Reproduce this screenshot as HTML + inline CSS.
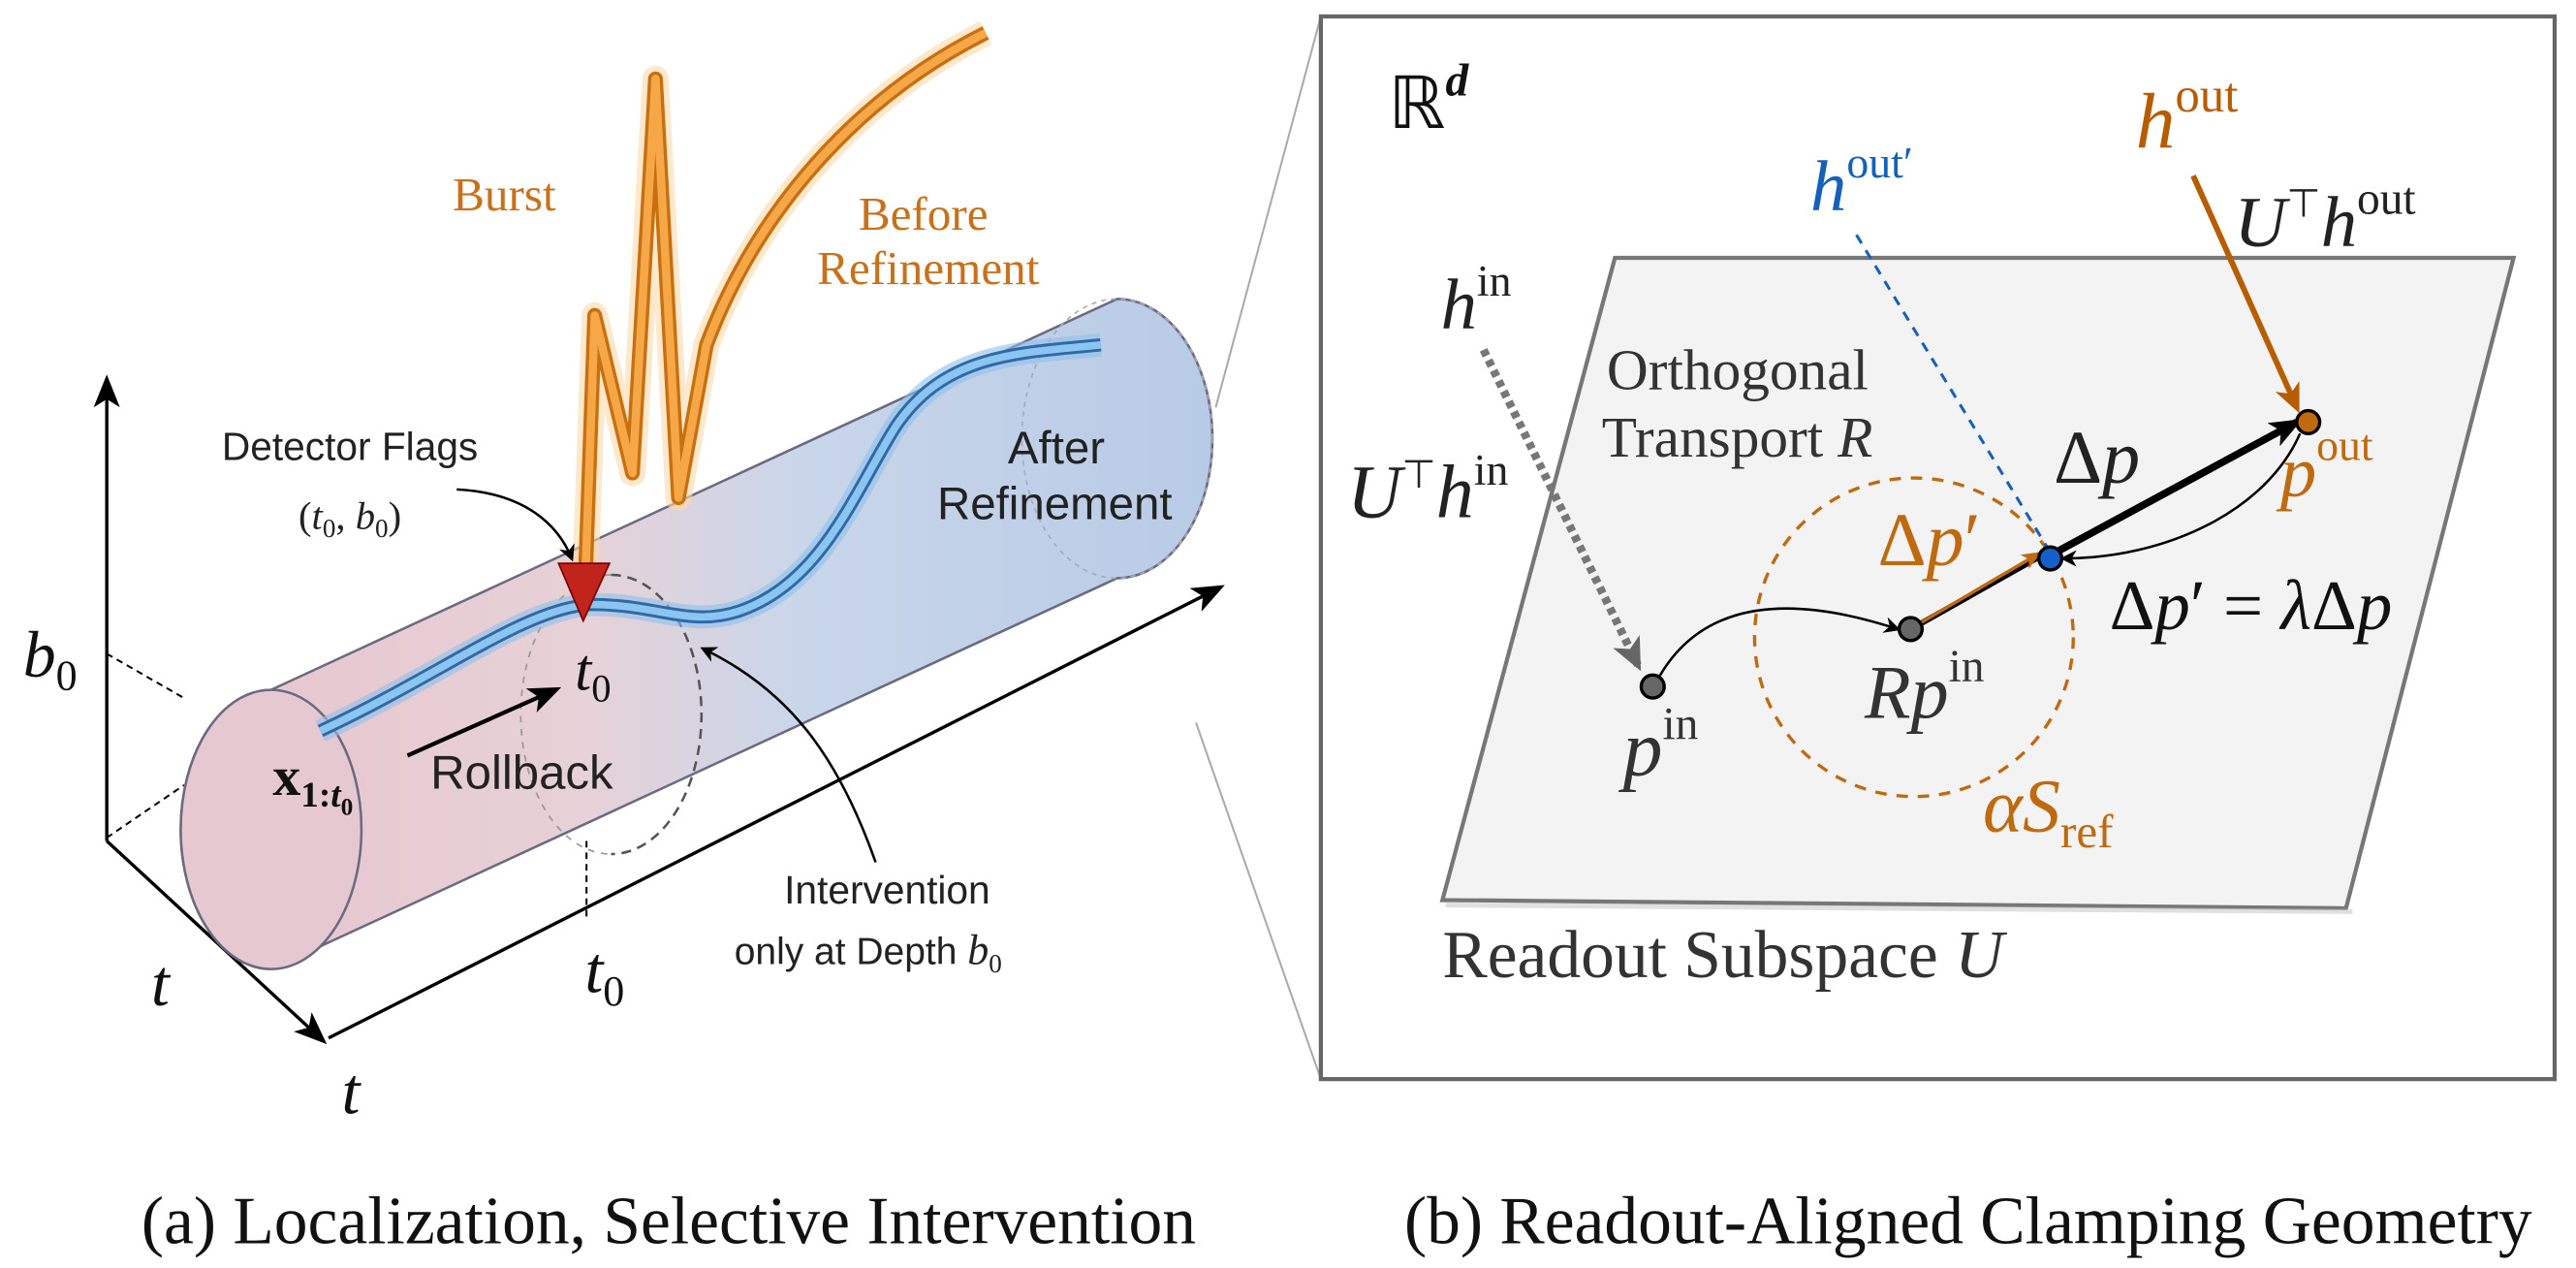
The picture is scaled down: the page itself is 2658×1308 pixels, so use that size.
<!DOCTYPE html>
<html><head><meta charset="utf-8"><style>
html,body{margin:0;padding:0;background:#fff}
svg{display:block}
.s{font-family:"Liberation Serif",serif}
.a{font-family:"Liberation Sans",sans-serif}
</style></head><body>
<svg width="2658" height="1308" viewBox="0 0 1568 772" preserveAspectRatio="none" xmlns="http://www.w3.org/2000/svg">
<defs>
<linearGradient id="cyl" x1="0" y1="0" x2="1" y2="0">
<stop offset="0" stop-color="#e8c4cc"/><stop offset="0.4" stop-color="#e6d2d8"/><stop offset="0.6" stop-color="#c9d6ea"/><stop offset="1" stop-color="#b8cbe6"/>
</linearGradient>
<marker id="ab" markerWidth="10" markerHeight="10" refX="8" refY="5" orient="auto" markerUnits="userSpaceOnUse"><path d="M0,0 L10,5 L0,10 L3,5z" fill="#000"/></marker>
<marker id="abb" markerWidth="20" markerHeight="16" refX="16" refY="8" orient="auto" markerUnits="userSpaceOnUse"><path d="M0,0 L20,8 L0,16 L5,8z" fill="#000"/></marker>
<marker id="ao" markerWidth="18" markerHeight="16" refX="14" refY="8" orient="auto" markerUnits="userSpaceOnUse"><path d="M0,0 L18,8 L0,16 L5,8z" fill="#b85c00"/></marker>
<marker id="ao2" markerWidth="12" markerHeight="10" refX="10" refY="5" orient="auto" markerUnits="userSpaceOnUse"><path d="M0,0 L12,5 L0,10 L3,5z" fill="#c06a10"/></marker>
<marker id="ag" markerWidth="20" markerHeight="18" refX="16" refY="9" orient="auto" markerUnits="userSpaceOnUse"><path d="M0,0 L20,9 L0,18 L5,9z" fill="#666"/></marker>
</defs>

<line x1="65" y1="512" x2="65" y2="232" stroke="#000" stroke-width="2" marker-end="url(#abb)"/>
<line x1="65" y1="512" x2="196" y2="633" stroke="#000" stroke-width="2" marker-end="url(#abb)"/>
<line x1="200" y1="632" x2="742" y2="358" stroke="#000" stroke-width="2" marker-end="url(#abb)"/>
<line x1="65" y1="398" x2="112" y2="425" stroke="#000" stroke-width="1.2" stroke-dasharray="4,3"/>
<line x1="65" y1="510" x2="112" y2="478" stroke="#000" stroke-width="1.2" stroke-dasharray="4,3"/>
<line x1="357" y1="512" x2="357" y2="560" stroke="#000" stroke-width="1.2" stroke-dasharray="4,3"/>

<path d="M165,420 L680,182 A58,85 0 0 1 680,352 L165,590 A55,85 0 0 1 165,420 Z" fill="url(#cyl)" stroke="#6a6a80" stroke-width="1.5"/>
<ellipse cx="165" cy="505" rx="55" ry="85" fill="#e6c8d0" stroke="#6a6a80" stroke-width="1.5"/>
<ellipse cx="680" cy="267" rx="58" ry="85" fill="none" stroke="#aab" stroke-width="1" stroke-dasharray="3,3"/>
<path d="M372,350 A55,85 0 0 1 372,520" fill="none" stroke="#555" stroke-width="1.5" stroke-dasharray="6,4"/>
<path d="M372,350 A55,85 0 0 0 372,520" fill="none" stroke="#999" stroke-width="1" stroke-dasharray="4,4"/>

<path d="M195,445 C270,410 320,370 360,368 C400,368 420,382 450,372 C500,355 520,300 545,260 C575,215 620,215 670,210" fill="none" stroke="#8fc0ea" stroke-width="14" opacity="0.6"/>
<path d="M195,445 C270,410 320,370 360,368 C400,368 420,382 450,372 C500,355 520,300 545,260 C575,215 620,215 670,210" fill="none" stroke="#2e6aa8" stroke-width="8"/>
<path d="M195,445 C270,410 320,370 360,368 C400,368 420,382 450,372 C500,355 520,300 545,260 C575,215 620,215 670,210" fill="none" stroke="#8cc6f0" stroke-width="4.5"/>

<path d="M356,360 L362,192 L385,288 L399,48 L413,303 L430,210 C460,130 520,60 600,20" fill="none" stroke="#ffd8a8" stroke-width="16" opacity="0.6" stroke-linejoin="round"/>
<path d="M356,360 L362,192 L385,288 L399,48 L413,303 L430,210 C460,130 520,60 600,20" fill="none" stroke="#c8700f" stroke-width="9" stroke-linejoin="round"/>
<path d="M356,360 L362,192 L385,288 L399,48 L413,303 L430,210 C460,130 520,60 600,20" fill="none" stroke="#f6a848" stroke-width="5" stroke-linejoin="round"/>

<polygon points="340,343 371,343 355,378" fill="#c0241a" stroke="#700" stroke-width="1"/>

<path d="M278,298 C320,300 340,320 348,340" fill="none" stroke="#000" stroke-width="1.5" marker-end="url(#ab)"/>
<line x1="248" y1="460" x2="338" y2="420" stroke="#000" stroke-width="2.5" marker-end="url(#abb)"/>
<path d="M533,525 C510,460 480,420 428,395" fill="none" stroke="#000" stroke-width="1.5" marker-end="url(#ab)"/>

<text x="307" y="128" class="s" font-size="29" fill="#c8701a" text-anchor="middle">Burst</text>
<text x="562" y="140" class="s" font-size="29" fill="#c8701a" text-anchor="middle">Before</text>
<text x="565" y="173" class="s" font-size="29" fill="#c8701a" text-anchor="middle">Refinement</text>
<text x="643" y="282" class="a" font-size="28" fill="#222" text-anchor="middle">After</text>
<text x="642" y="316" class="a" font-size="28" fill="#222" text-anchor="middle">Refinement</text>
<text x="213" y="280" class="a" font-size="24" fill="#222" text-anchor="middle">Detector Flags</text>
<text x="213" y="322" class="s" font-size="24" fill="#222" text-anchor="middle">(<tspan font-style="italic">t</tspan><tspan font-size="16" dy="5">0</tspan><tspan dy="-5">, </tspan><tspan font-style="italic">b</tspan><tspan font-size="16" dy="5">0</tspan><tspan dy="-5">)</tspan></text>
<text x="350" y="420" class="s" font-size="36" font-style="italic" fill="#111">t<tspan font-style="normal" font-size="24" dy="7">0</tspan></text>
<text x="166" y="484" class="s" font-size="34" font-weight="bold" fill="#111">x<tspan font-size="22" dy="7">1:</tspan><tspan font-size="22" font-style="italic">t</tspan><tspan font-size="15" dy="5">0</tspan></text>
<text x="262" y="480" class="a" font-size="29" fill="#222">Rollback</text>
<text x="540" y="550" class="a" font-size="24" fill="#222" text-anchor="middle">Intervention</text>
<text x="447" y="587" class="a" font-size="23" fill="#222">only at Depth <tspan class="s" font-style="italic" font-size="26">b</tspan><tspan class="s" font-size="16" dy="5">0</tspan></text>
<text x="14" y="412" class="s" font-size="40" font-style="italic" fill="#111">b<tspan font-style="normal" font-size="26" dy="8">0</tspan></text>
<text x="92" y="612" class="s" font-size="40" font-style="italic" fill="#111">t</text>
<text x="208" y="678" class="s" font-size="40" font-style="italic" fill="#111">t</text>
<text x="356" y="604" class="s" font-size="40" font-style="italic" fill="#111">t<tspan font-style="normal" font-size="26" dy="8">0</tspan></text>

<line x1="804" y1="10" x2="740" y2="248" stroke="#aaa" stroke-width="1.2"/>
<line x1="804" y1="657" x2="728" y2="440" stroke="#aaa" stroke-width="1.2"/>

<rect x="804" y="10" width="751" height="647" fill="#fff" stroke="#666" stroke-width="2.5"/>
<polygon points="983,157 1530,157 1428,553 878,548" fill="#f3f3f3" stroke="#777" stroke-width="2.5"/>
<line x1="1432" y1="555" x2="880" y2="551" stroke="#ccc" stroke-width="3" opacity="0.6"/>

<circle cx="1165" cy="388" r="97" fill="none" stroke="#c06a10" stroke-width="2" stroke-dasharray="7,6"/>

<line x1="1130" y1="143" x2="1246" y2="333" stroke="#1560b8" stroke-width="1.8" stroke-dasharray="6,5"/>
<line x1="1335" y1="107" x2="1398" y2="248" stroke="#b85c00" stroke-width="3.5" marker-end="url(#ao)"/>
<line x1="903" y1="213" x2="997" y2="405" stroke="#777" stroke-width="5" stroke-dasharray="4,3" marker-end="url(#ag)"/>

<path d="M1010,412 C1040,360 1100,365 1155,383" fill="none" stroke="#000" stroke-width="1.5" marker-end="url(#ab)"/>
<line x1="1165" y1="382" x2="1243" y2="338" stroke="#000" stroke-width="3.5"/>
<line x1="1166" y1="381" x2="1241" y2="337" stroke="#c06a10" stroke-width="2" marker-end="url(#ao2)"/>
<line x1="1250" y1="337" x2="1398" y2="257" stroke="#000" stroke-width="4.5" marker-end="url(#abb)"/>
<path d="M1400,264 C1380,310 1320,340 1256,340" fill="none" stroke="#000" stroke-width="1.5" marker-end="url(#ab)"/>

<circle cx="1006" cy="418" r="7" fill="#666" stroke="#000" stroke-width="2"/>
<circle cx="1163" cy="383" r="7" fill="#666" stroke="#000" stroke-width="2"/>
<circle cx="1248" cy="340" r="7" fill="#1560c8" stroke="#000" stroke-width="2"/>
<circle cx="1405" cy="257" r="7" fill="#c06a10" stroke="#000" stroke-width="2"/>

<text x="845" y="78" class="s" font-size="44" fill="#111">ℝ<tspan font-size="28" font-style="italic" font-weight="bold" dy="-20">d</tspan></text>
<text x="1300" y="90" class="s" font-size="48" font-style="italic" fill="#b85c00">h<tspan font-style="normal" font-size="30" dy="-22">out</tspan></text>
<text x="1360" y="150" class="s" font-size="44" font-style="italic" fill="#222">U<tspan font-style="normal" font-size="24" dy="-18">⊤</tspan><tspan dy="18">h</tspan><tspan font-style="normal" font-size="28" dy="-20">out</tspan></text>
<text x="1102" y="128" class="s" font-size="44" font-style="italic" fill="#1560b8">h<tspan font-style="normal" font-size="27" dy="-20">out′</tspan></text>
<text x="877" y="200" class="s" font-size="44" font-style="italic" fill="#222">h<tspan font-style="normal" font-size="27" dy="-20">in</tspan></text>
<text x="820" y="315" class="s" font-size="46" font-style="italic" fill="#222">U<tspan font-style="normal" font-size="24" dy="-18">⊤</tspan><tspan dy="18">h</tspan><tspan font-style="normal" font-size="27" dy="-20">in</tspan></text>
<text x="978" y="237" class="s" font-size="35" fill="#333">Orthogonal</text>
<text x="975" y="278" class="s" font-size="35" fill="#333">Transport <tspan font-style="italic">R</tspan></text>
<text x="1250" y="294" class="s" font-size="46" fill="#222">Δ<tspan font-style="italic">p</tspan></text>
<text x="1388" y="302" class="s" font-size="44" font-style="italic" fill="#c06a10">p<tspan font-style="normal" font-size="27" dy="-22">out</tspan></text>
<text x="1143" y="344" class="s" font-size="46" fill="#c06a10">Δ<tspan font-style="italic">p</tspan>′</text>
<text x="1284" y="383" class="s" font-size="43" fill="#111">Δ<tspan font-style="italic">p</tspan>′ = <tspan font-style="italic">λ</tspan>Δ<tspan font-style="italic">p</tspan></text>
<text x="1135" y="437" class="s" font-size="46" font-style="italic" fill="#333">Rp<tspan font-style="normal" font-size="28" dy="-22">in</tspan></text>
<text x="988" y="472" class="s" font-size="48" font-style="italic" fill="#333">p<tspan font-style="normal" font-size="28" dy="-22">in</tspan></text>
<text x="1207" y="506" class="s" font-size="46" font-style="italic" fill="#c06a10">αS<tspan font-style="normal" font-size="29" dy="10">ref</tspan></text>
<text x="878" y="595" class="s" font-size="41" fill="#333">Readout Subspace <tspan font-style="italic">U</tspan></text>

<text x="407" y="757" class="s" font-size="41" fill="#111" text-anchor="middle">(a) Localization, Selective Intervention</text>
<text x="1198" y="757" class="s" font-size="41" fill="#111" text-anchor="middle">(b) Readout-Aligned Clamping Geometry</text>
</svg>
</body></html>
